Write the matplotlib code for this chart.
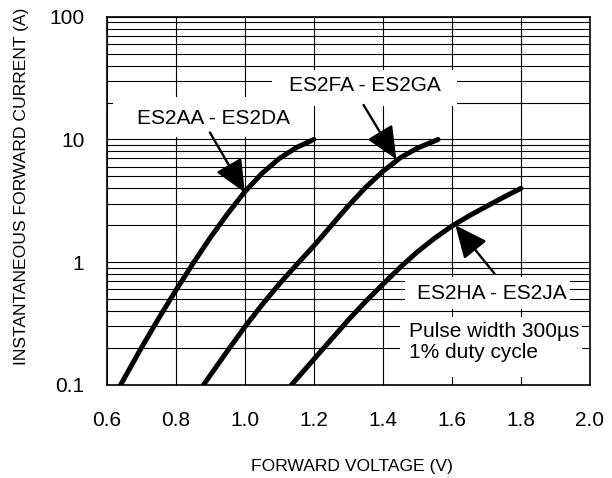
import matplotlib
matplotlib.use("Agg")
import matplotlib.pyplot as plt
from matplotlib.ticker import FixedLocator, FixedFormatter, NullFormatter, LogLocator
from matplotlib.patches import Rectangle

plt.rcParams['font.family'] = ['Liberation Sans', 'DejaVu Sans']

# ---------------- data ----------------
v_aa = [0.64, 0.70, 0.75, 0.80, 0.85, 0.90, 0.95, 1.00, 1.05, 1.10, 1.15, 1.20]
i_aa = [0.10, 0.20, 0.347, 0.589, 0.977, 1.585, 2.48, 3.75, 5.30, 7.00, 8.60, 10.0]

v_fa = [0.88, 0.90, 0.95, 1.00, 1.05, 1.10, 1.15, 1.20, 1.25, 1.30, 1.35, 1.40, 1.45, 1.50, 1.56]
i_fa = [0.10, 0.12, 0.19, 0.297, 0.45, 0.665, 0.955, 1.36, 1.98, 2.88, 4.07, 5.50, 7.08, 8.50, 10.0]

v_ha = [1.135, 1.20, 1.25, 1.30, 1.35, 1.40, 1.45, 1.50, 1.55, 1.60, 1.65, 1.70, 1.75, 1.80]
i_ha = [0.10, 0.162, 0.234, 0.339, 0.479, 0.661, 0.908, 1.216, 1.57, 1.97, 2.39, 2.85, 3.39, 4.00]

series_labels = ['ES2AA - ES2DA', 'ES2FA - ES2GA', 'ES2HA - ES2JA']
note_text = 'Pulse width 300\u00b5s\n1% duty cycle'

x_ticks = [0.6, 0.8, 1.0, 1.2, 1.4, 1.6, 1.8, 2.0]
x_tick_labels = ['0.6', '0.8', '1.0', '1.2', '1.4', '1.6', '1.8', '2.0']
y_ticks = [0.1, 1, 10, 100]
y_tick_labels = ['0.1', '1', '10', '100']

x_label = 'FORWARD VOLTAGE (V)'
y_label = 'INSTANTANEOUS FORWARD CURRENT (A)'

# arrow (tail -> tip) positions in data units
arrow_tails = [(0.899, 11.4), (1.344, 19.1), (1.723, 0.81)]
arrow_tips = [(1.000, 3.7), (1.439, 6.9), (1.610, 2.0)]
label_pos = [(0.909, 14.7), (1.349, 27.3), (1.716, 0.553)]
note_pos = (1.477, 0.225)

# ---------------- figure ----------------
W, H = 612, 478
L, R, T, B = 106.7, 590.0, 16.7, 385.0
fig = plt.figure(figsize=(W / 100, H / 100), dpi=100)
ax = fig.add_axes([L / W, 1 - B / H, (R - L) / W, (B - T) / H])

ax.set_yscale('log')
ax.set_xlim(0.6, 2.0)
ax.set_ylim(0.1, 100)

ax.xaxis.set_major_locator(FixedLocator(x_ticks))
ax.xaxis.set_major_formatter(FixedFormatter(x_tick_labels))
ax.yaxis.set_major_locator(FixedLocator(y_ticks))
ax.yaxis.set_major_formatter(FixedFormatter(y_tick_labels))
ax.yaxis.set_minor_locator(LogLocator(base=10, subs=range(2, 10)))
ax.yaxis.set_minor_formatter(NullFormatter())
ax.xaxis.set_minor_locator(FixedLocator([]))

ax.tick_params(axis='both', which='both', length=0, labelsize=15, colors='black')
ax.tick_params(axis='x', pad=19)
ax.tick_params(axis='y', pad=16)

ax.set_axisbelow(True)
ax.grid(True, axis='x', which='major', color='black', lw=0.8)
ax.grid(True, axis='y', which='both', color='black', lw=0.8)

for s in ax.spines.values():
    s.set_linewidth(1.2)
    s.set_color('black')
    s.set_zorder(5)


def px_rect(x0, y0, x1, y1):
    fx0 = (x0 - L) / (R - L)
    fx1 = (x1 - L) / (R - L)
    fy0 = (B - y1) / (B - T)
    fy1 = (B - y0) / (B - T)
    ax.add_patch(Rectangle((fx0, fy0), fx1 - fx0, fy1 - fy0, transform=ax.transAxes,
                           facecolor='white', edgecolor='none', zorder=1.5))


px_rect(113, 97, 305, 137)
px_rect(272, 70, 457, 106)
px_rect(405, 277, 570, 309)
px_rect(400, 317, 582, 377)

for v, i in [(v_aa, i_aa), (v_fa, i_fa), (v_ha, i_ha)]:
    ax.plot(v, i, color='black', lw=3.6, solid_capstyle='round',
            solid_joinstyle='round', zorder=3)

for tail, tip in zip(arrow_tails, arrow_tips):
    ax.annotate('', xy=tip, xytext=tail,
                arrowprops=dict(arrowstyle='-|>,head_length=2.0,head_width=0.9',
                                mutation_scale=10, lw=1.7, color='black',
                                shrinkA=0, shrinkB=0), zorder=4)

for txt, (x, y) in zip(series_labels, label_pos):
    ax.text(x, y, txt, fontsize=15, ha='center', va='center', zorder=4)

ax.text(note_pos[0], note_pos[1], note_text, fontsize=15, ha='left', va='center',
        linespacing=1.1, zorder=4)

fig.text(352 / W, 1 - 466.7 / H, x_label, fontsize=12.6, ha='center', va='center')
fig.text(21.7 / W, 1 - 186 / H, y_label, fontsize=12.6, ha='center', va='center', rotation=90)

fig.savefig('out.png', dpi=100)
